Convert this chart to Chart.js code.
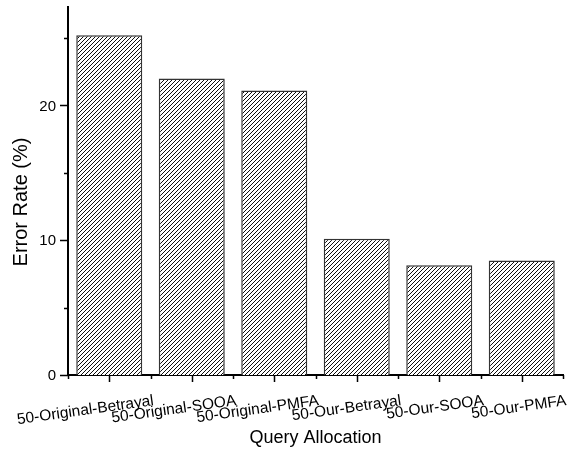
<!DOCTYPE html>
<html>
<head>
<meta charset="utf-8">
<script src="https://cdn.jsdelivr.net/npm/chart.js@4/dist/chart.umd.min.js"></script>
<style>
  html, body { margin: 0; padding: 0; background: #fff; }
  canvas { display: block; }
</style>
</head>
<body>
<canvas id="chart" width="568" height="453"></canvas>
<script>
// Query allocation strategies and their error rates (%)
const categories = [
  '50-Original-Betrayal',
  '50-Original-SOOA',
  '50-Original-PMFA',
  '50-Our-Betrayal',
  '50-Our-SOOA',
  '50-Our-PMFA'
];
const errorRates = [25.2, 22.0, 21.1, 10.1, 8.15, 8.5];

// Y axis range and tick values
const yMin = 0;
const yMax = 27.3;
const yMajorTicks = [0, 10, 20];
const yMinorTicks = [5, 15, 25];

const xTitle = 'Query Allocation';
const yTitle = 'Error Rate (%)';

const FONT = '"Liberation Sans", Arial, Helvetica, sans-serif';

// Diagonal "////" hatch used as the bar fill
function makeHatch() {
  const s = 4;
  const c = document.createElement('canvas');
  c.width = s; c.height = s;
  const g = c.getContext('2d');
  g.fillStyle = '#ffffff';
  g.fillRect(0, 0, s, s);
  g.strokeStyle = '#000000';
  g.lineWidth = 0.95;
  g.beginPath();
  g.moveTo(-1, s + 1); g.lineTo(s + 1, -1);
  g.moveTo(-1, 1); g.lineTo(1, -1);
  g.moveTo(s - 1, s + 1); g.lineTo(s + 1, s - 1);
  g.stroke();
  return g.createPattern(c, 'repeat');
}

// Tick marks, tick labels and axis titles drawn from the chart's scales
const axisDecor = {
  id: 'axisDecor',
  afterDraw(chart) {
    const ctx = chart.ctx;
    const xs = chart.scales.x;
    const ys = chart.scales.y;
    const left = chart.chartArea.left;
    const bottom = chart.chartArea.bottom;
    ctx.save();
    ctx.strokeStyle = '#000';
    ctx.fillStyle = '#000';
    ctx.lineWidth = 1.5;

    // y ticks (outward)
    ctx.beginPath();
    yMajorTicks.forEach(v => {
      const y = Math.round(ys.getPixelForValue(v)) + 0.5;
      ctx.moveTo(left - 8, y); ctx.lineTo(left, y);
    });
    yMinorTicks.forEach(v => {
      const y = Math.round(ys.getPixelForValue(v)) + 0.5;
      ctx.moveTo(left - 4, y); ctx.lineTo(left, y);
    });
    // x ticks: long at category centres, short at boundaries
    categories.forEach((c, i) => {
      const x = Math.round(xs.getPixelForValue(i)) + 0.5;
      ctx.moveTo(x, bottom); ctx.lineTo(x, bottom + 7);
    });
    for (let i = -0.5; i <= categories.length - 0.5; i += 1) {
      const x = Math.round(xs.getPixelForValue(i)) + 0.5;
      ctx.moveTo(x, bottom); ctx.lineTo(x, bottom + 4);
    }
    ctx.stroke();

    // y tick labels
    ctx.font = '15px ' + FONT;
    ctx.textAlign = 'right';
    ctx.textBaseline = 'middle';
    yMajorTicks.forEach(v => {
      ctx.fillText(String(v), left - 12, ys.getPixelForValue(v) + 1);
    });

    // x tick labels, slightly tilted
    ctx.font = '15.5px ' + FONT;
    ctx.textAlign = 'right';
    ctx.textBaseline = 'alphabetic';
    categories.forEach((c, i) => {
      const x = xs.getPixelForValue(i) + 45;
      ctx.save();
      ctx.translate(x, bottom + 30);
      ctx.rotate(-8 * Math.PI / 180);
      ctx.fillText(c, 0, 0);
      ctx.restore();
    });

    // axis titles
    ctx.font = '18px ' + FONT;
    ctx.textAlign = 'center';
    ctx.textBaseline = 'alphabetic';
    ctx.fillText(xTitle, (chart.chartArea.left + chart.chartArea.right) / 2, 443);

    ctx.font = '20px ' + FONT;
    ctx.save();
    ctx.translate(27, 202);
    ctx.rotate(-Math.PI / 2);
    ctx.fillText(yTitle, 0, 0);
    ctx.restore();

    ctx.restore();
  }
};

new Chart(document.getElementById('chart'), {
  type: 'bar',
  data: {
    labels: categories,
    datasets: [{
      data: errorRates,
      backgroundColor: makeHatch(),
      borderColor: '#333333',
      borderWidth: 1.5,
      barPercentage: 0.8,
      categoryPercentage: 1.0
    }]
  },
  options: {
    responsive: false,
    animation: false,
    devicePixelRatio: 1,
    layout: { padding: { left: 0, top: 7, right: 5, bottom: 0 } },
    plugins: {
      legend: { display: false },
      tooltip: { enabled: false }
    },
    scales: {
      x: {
        type: 'category',
        offset: true,
        grid: { display: false },
        border: { display: true, color: '#000', width: 2 },
        ticks: { display: false },
        afterFit(s) { s.height = 78; }
      },
      y: {
        min: yMin,
        max: yMax,
        grid: { display: false },
        border: { display: true, color: '#000', width: 2 },
        ticks: { display: false },
        afterFit(s) { s.width = 68; }
      }
    }
  },
  plugins: [axisDecor]
});
</script>
</body>
</html>
